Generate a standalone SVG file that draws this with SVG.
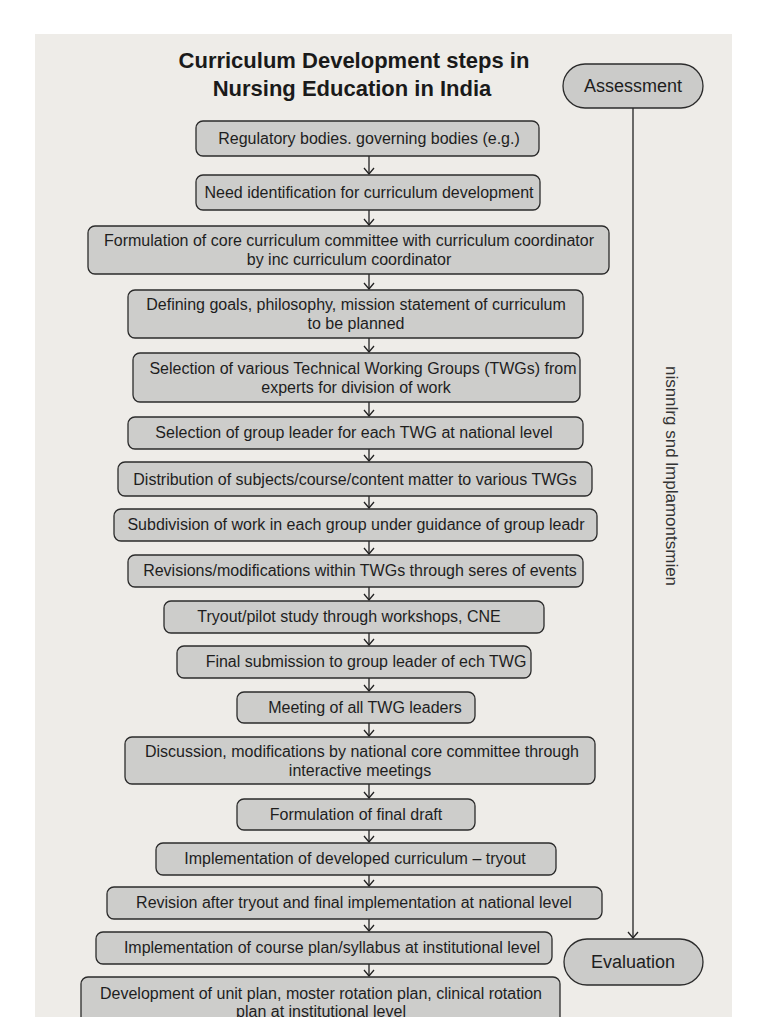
<svg xmlns="http://www.w3.org/2000/svg" width="768" height="1024" viewBox="0 0 768 1024">
<defs>
<style>
.box{fill:#cdcdcb;stroke:#2b2b2b;stroke-width:1.3}
.pill{fill:#cbcbc9;stroke:#2b2b2b;stroke-width:1.3}
.t{font-family:"Liberation Sans",Arial,sans-serif;font-size:16px;fill:#1e1e1e;text-anchor:middle}
.pt{font-family:"Liberation Sans",Arial,sans-serif;font-size:18px;fill:#1e1e1e;text-anchor:middle}
.st{font-family:"Liberation Sans",Arial,sans-serif;font-size:17px;fill:#333;text-anchor:middle}
.title{font-family:"Liberation Sans",Arial,sans-serif;font-size:22px;font-weight:bold;fill:#1a1a1a;text-anchor:middle}
.c{stroke:#222;stroke-width:1.3;fill:none}
</style>
<marker id="ah" viewBox="0 0 8 12" refX="7" refY="6" markerWidth="8" markerHeight="12" markerUnits="userSpaceOnUse" orient="auto">
<path d="M1,1 L7,6 L1,11" fill="none" stroke="#222" stroke-width="1.3"/>
</marker>
<clipPath id="clip"><rect x="0" y="0" width="768" height="1017"/></clipPath>
</defs>
<rect x="0" y="0" width="768" height="1024" fill="#ffffff"/>
<g clip-path="url(#clip)">
<rect x="35" y="34" width="697" height="990" fill="#eeece8"/>
<g id="title">
<text class="title" x="354" y="68">Curriculum Development steps in</text>
<text class="title" x="352" y="96">Nursing Education in India</text>
</g>
<g id="connectors">
<line class="c" x1="369" y1="156" x2="369" y2="174" marker-end="url(#ah)"/>
<line class="c" x1="369" y1="210" x2="369" y2="225" marker-end="url(#ah)"/>
<line class="c" x1="369" y1="274" x2="369" y2="289" marker-end="url(#ah)"/>
<line class="c" x1="369" y1="338" x2="369" y2="352" marker-end="url(#ah)"/>
<line class="c" x1="369" y1="402" x2="369" y2="416" marker-end="url(#ah)"/>
<line class="c" x1="369" y1="449" x2="369" y2="461" marker-end="url(#ah)"/>
<line class="c" x1="369" y1="496" x2="369" y2="508" marker-end="url(#ah)"/>
<line class="c" x1="369" y1="541" x2="369" y2="554" marker-end="url(#ah)"/>
<line class="c" x1="369" y1="587" x2="369" y2="600" marker-end="url(#ah)"/>
<line class="c" x1="369" y1="633" x2="369" y2="645" marker-end="url(#ah)"/>
<line class="c" x1="369" y1="678" x2="369" y2="691" marker-end="url(#ah)"/>
<line class="c" x1="369" y1="723" x2="369" y2="736" marker-end="url(#ah)"/>
<line class="c" x1="369" y1="784" x2="369" y2="798" marker-end="url(#ah)"/>
<line class="c" x1="369" y1="830" x2="369" y2="842" marker-end="url(#ah)"/>
<line class="c" x1="369" y1="875" x2="369" y2="886" marker-end="url(#ah)"/>
<line class="c" x1="369" y1="919" x2="369" y2="931" marker-end="url(#ah)"/>
<line class="c" x1="369" y1="964" x2="369" y2="976" marker-end="url(#ah)"/>
<line class="c" x1="633" y1="108" x2="633" y2="938" marker-end="url(#ah)"/>
</g>
<g id="n1"><rect class="box" x="196" y="121" width="343" height="35" rx="7"/><text class="t" x="369" y="144">Regulatory bodies. governing bodies (e.g.)</text></g>
<g id="n2"><rect class="box" x="196" y="175" width="344" height="35" rx="7"/><text class="t" x="369" y="198">Need identification for curriculum development</text></g>
<g id="n3"><rect class="box" x="88" y="226" width="521" height="48" rx="7"/><text class="t" x="349" y="246">Formulation of core curriculum committee with curriculum coordinator</text><text class="t" x="349" y="265">by inc curriculum coordinator</text></g>
<g id="n4"><rect class="box" x="128" y="290" width="455" height="48" rx="7"/><text class="t" x="356" y="310">Defining goals, philosophy, mission statement of curriculum</text><text class="t" x="356" y="329">to be planned</text></g>
<g id="n5"><rect class="box" x="133" y="353" width="447" height="49" rx="7"/><text class="t" x="363" y="374">Selection of various Technical Working Groups (TWGs) from</text><text class="t" x="356" y="393">experts for division of work</text></g>
<g id="n6"><rect class="box" x="128" y="417" width="455" height="32" rx="7"/><text class="t" x="354" y="438">Selection of group leader for each TWG at national level</text></g>
<g id="n7"><rect class="box" x="118" y="462" width="474" height="34" rx="7"/><text class="t" x="355" y="485">Distribution of subjects/course/content matter to various TWGs</text></g>
<g id="n8"><rect class="box" x="114" y="509" width="483" height="32" rx="7"/><text class="t" x="356" y="530">Subdivision of work in each group under guidance of group leadr</text></g>
<g id="n9"><rect class="box" x="128" y="555" width="455" height="32" rx="7"/><text class="t" x="360" y="576">Revisions/modifications within TWGs  through seres of events</text></g>
<g id="n10"><rect class="box" x="164" y="601" width="380" height="32" rx="7"/><text class="t" x="349" y="622">Tryout/pilot study through workshops, CNE</text></g>
<g id="n11"><rect class="box" x="177" y="646" width="354" height="32" rx="7"/><text class="t" x="366" y="667">Final submission to group leader of ech TWG</text></g>
<g id="n12"><rect class="box" x="237" y="692" width="238" height="31" rx="7"/><text class="t" x="365" y="713">Meeting of all TWG leaders</text></g>
<g id="n13"><rect class="box" x="125" y="737" width="470" height="47" rx="7"/><text class="t" x="362" y="757">Discussion, modifications by national core committee through</text><text class="t" x="360" y="776">interactive meetings</text></g>
<g id="n14"><rect class="box" x="237" y="799" width="238" height="31" rx="7"/><text class="t" x="356" y="820">Formulation of final draft</text></g>
<g id="n15"><rect class="box" x="156" y="843" width="400" height="32" rx="7"/><text class="t" x="355" y="864">Implementation of developed curriculum – tryout</text></g>
<g id="n16"><rect class="box" x="107" y="887" width="495" height="32" rx="7"/><text class="t" x="354" y="908">Revision after tryout and final implementation at national level</text></g>
<g id="n17"><rect class="box" x="96" y="932" width="456" height="32" rx="7"/><text class="t" x="332" y="953">Implementation of course plan/syllabus at institutional level</text></g>
<g id="n18"><rect class="box" x="81" y="977" width="479" height="60" rx="7"/><text class="t" x="321" y="999">Development of unit plan, moster rotation plan, clinical rotation</text><text class="t" x="321" y="1017">plan at institutional level</text></g>
<g id="assessment"><rect class="pill" x="563" y="64" width="140" height="44" rx="22"/><text class="pt" x="633" y="92">Assessment</text></g>
<g id="evaluation"><rect class="pill" x="564" y="939" width="139" height="46" rx="23"/><text class="pt" x="633" y="968">Evaluation</text></g>
<g id="side-label"><text class="st" x="0" y="0" transform="translate(666,476) rotate(90)">nisnnlrg snd lmplamontsmien</text></g>
</g>
</svg>
